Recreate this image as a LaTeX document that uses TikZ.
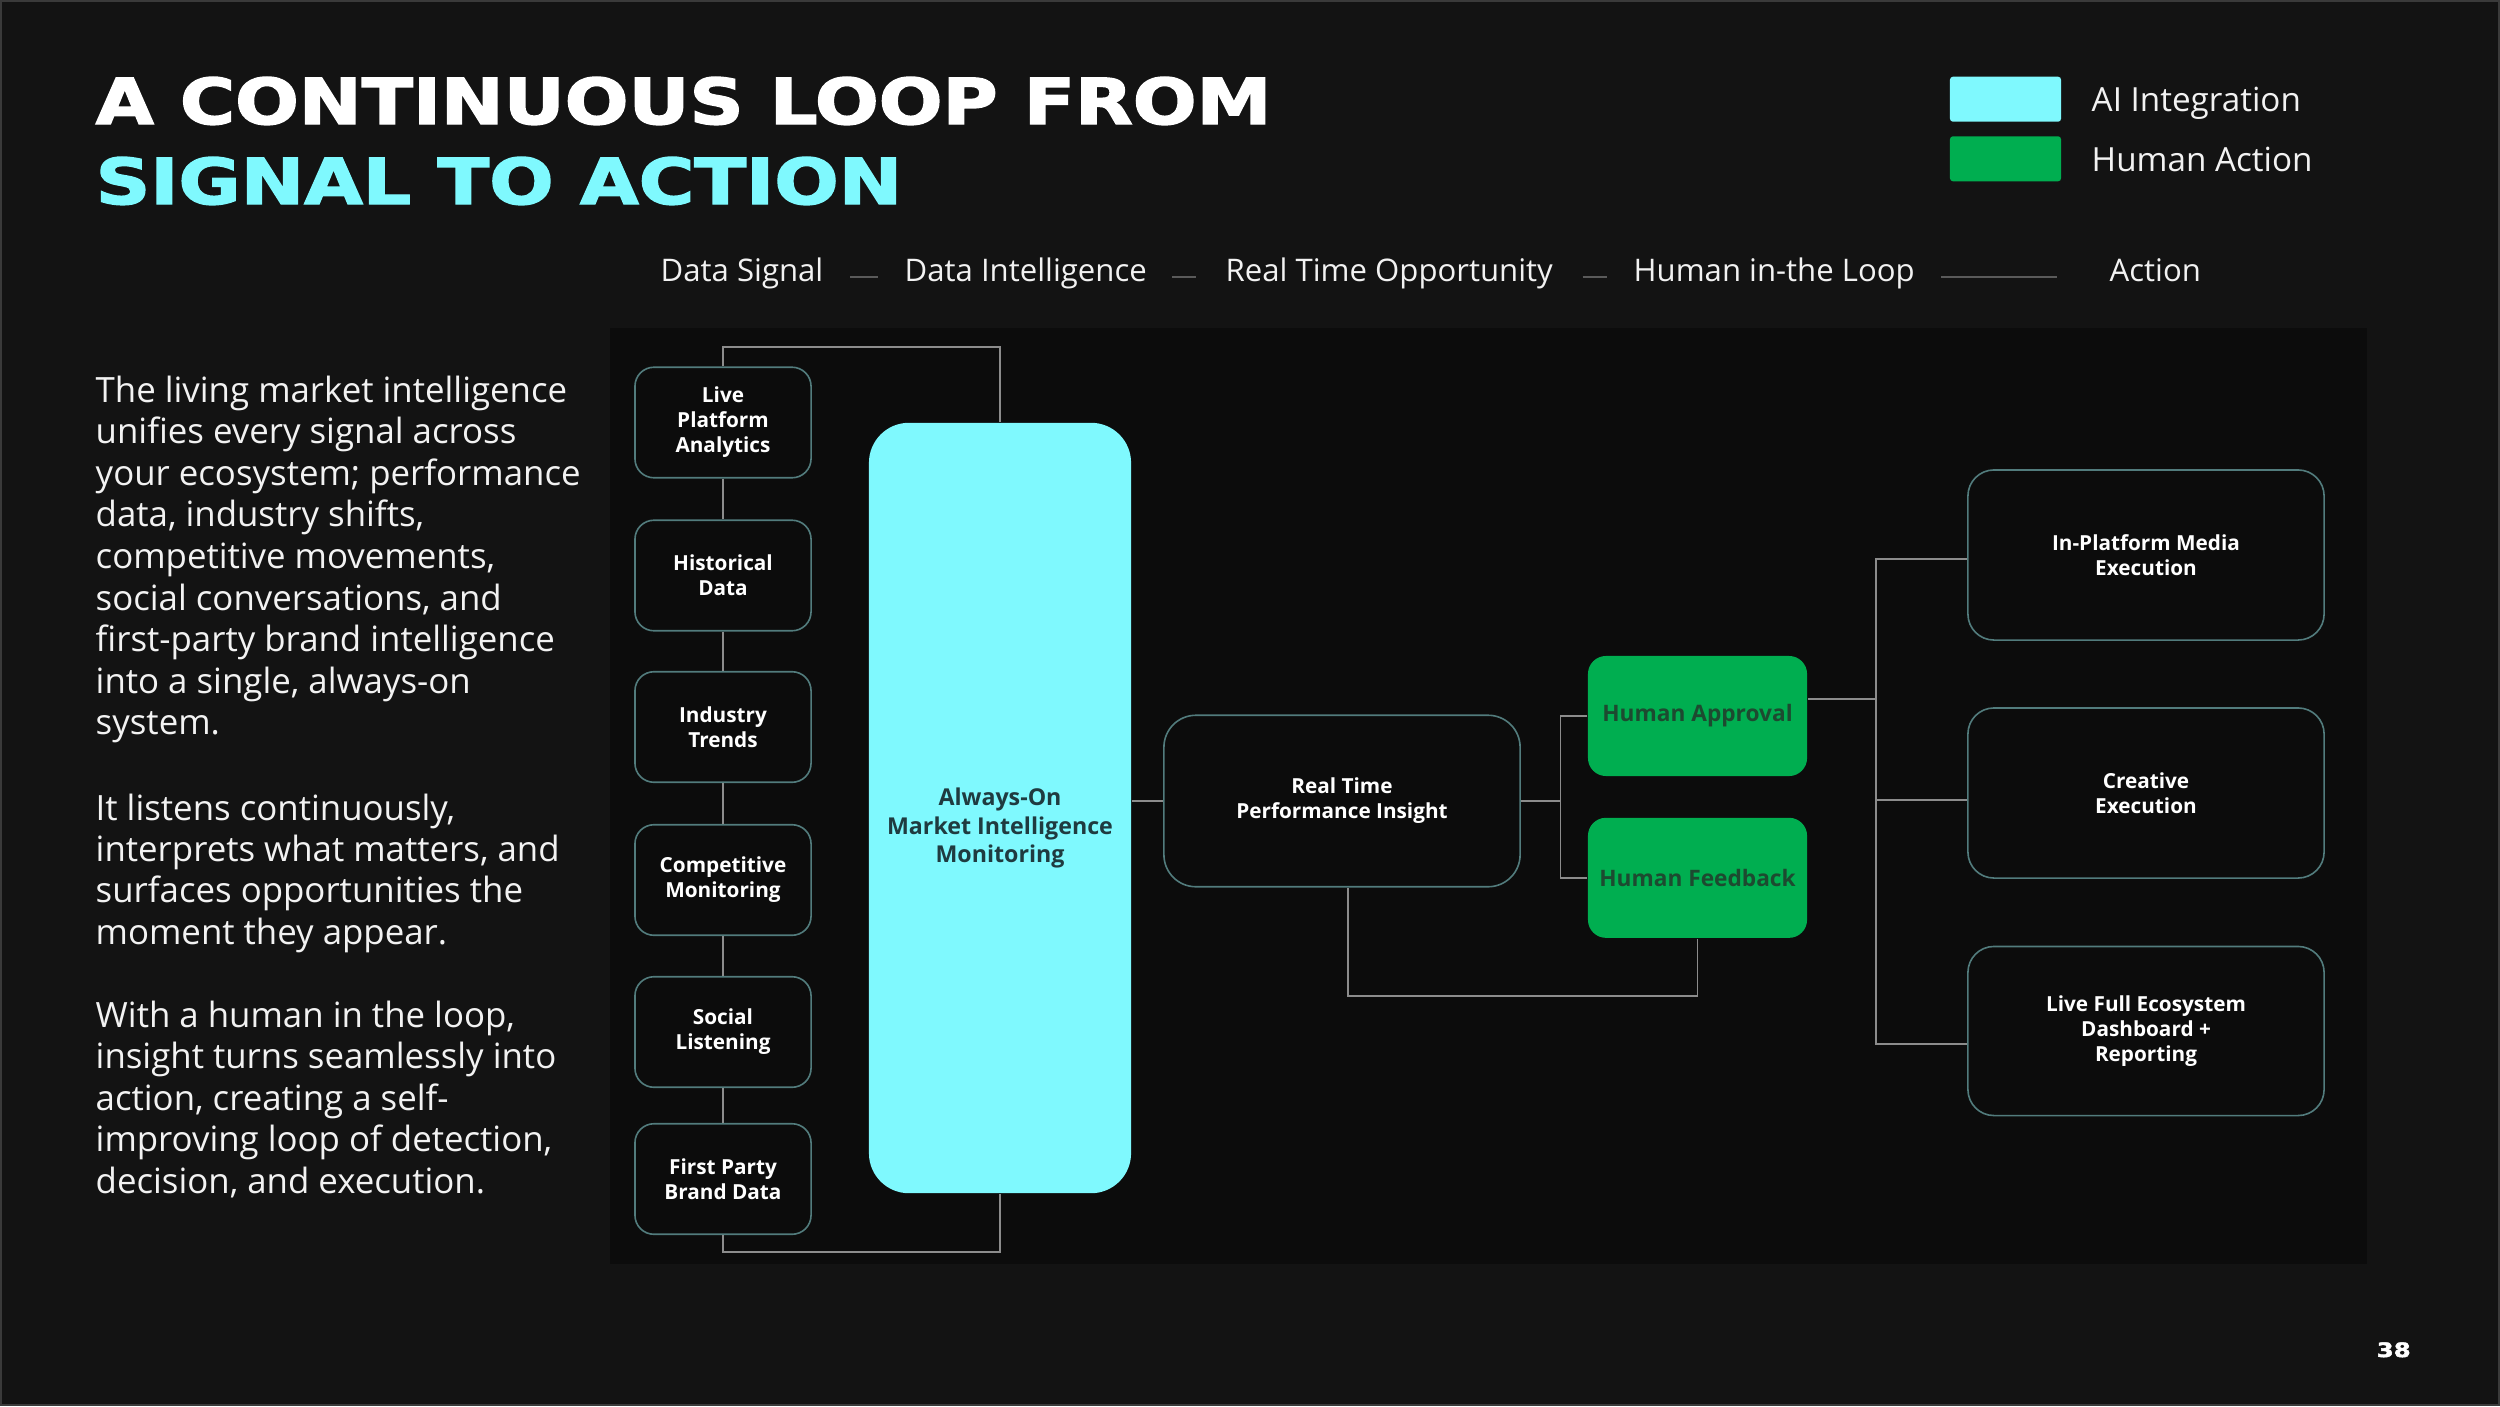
\documentclass[tikz,border=0pt]{standalone}
\usepackage{fontspec}
\usepackage{graphicx}
\setmainfont{Open Sans}
\newfontfamily\titlefont{DejaVu Sans}[BoldFeatures={FakeBold=2.2}]
\definecolor{bgc}{HTML}{131313}
\definecolor{panelc}{HTML}{0C0C0C}
\definecolor{framec}{HTML}{3A3A3A}
\definecolor{cyanc}{HTML}{7FF9FE}
\definecolor{greenc}{HTML}{00AE50}
\definecolor{bordc}{HTML}{527C7D}
\definecolor{connc}{HTML}{8C8C8C}
\definecolor{dashc}{HTML}{5A5A5A}
\definecolor{txtc}{HTML}{F2F2F2}
\definecolor{aitxt}{HTML}{1F3B40}
\definecolor{hutxt}{HTML}{1D4A30}
\newcommand\lblfont{\fontsize{5.9pt}{7.1pt}\selectfont\bfseries}
\begin{document}
\begin{tikzpicture}[x=0.01cm,y=-0.01cm,
  conn/.style={draw=connc,line width=0.018cm},
  hline/.style={draw=dashc,line width=0.02cm},
  src/.style={draw=bordc,line width=0.016cm,fill=panelc,rounded corners=0.19cm,
    minimum width=1.76cm,minimum height=1.105cm,inner sep=0pt,align=center,text=white,font=\lblfont},
  obox/.style={draw=bordc,line width=0.016cm,fill=panelc,inner sep=0pt,align=center,text=white,font=\lblfont},
  aibox/.style={fill=cyanc,rounded corners=0.4cm,minimum width=2.62cm,minimum height=7.70cm,inner sep=0pt},
  aitext/.style={align=center,text=aitxt,inner sep=0pt,font=\fontsize{6.6pt}{8.1pt}\selectfont\bfseries},
  hbox/.style={fill=greenc,rounded corners=0.18cm,minimum width=2.19cm,minimum height=1.2cm,inner sep=0pt,
    text=hutxt,font=\fontsize{6.45pt}{7.6pt}\selectfont\bfseries},
  hdr/.style={anchor=base west,inner sep=0pt,text=txtc,font=\fontsize{8.85pt}{10pt}\selectfont},
  legt/.style={anchor=base west,inner sep=0pt,text=txtc,font=\fontsize{9.45pt}{11pt}\selectfont},
  legbox/.style={minimum width=1.11cm,minimum height=0.45cm,rounded corners=0.03cm,inner sep=0pt},
  body/.style={anchor=base west,inner sep=0pt,text=txtc,font=\fontsize{9.9pt}{11.8pt}\selectfont}
]
\useasboundingbox (0,0) rectangle (2500,1406);
\fill[bgc] (0,0) rectangle (2500,1406);
\draw[framec,line width=0.02cm] (1,1) rectangle (2499,1405);
\fill[panelc] (610,328) rectangle (2367,1264);

% title
\node[anchor=base west,inner sep=0pt,text=white] (t1) at (95,124)
  {\resizebox{11.75cm}{0.47cm}{\titlefont\bfseries A CONTINUOUS LOOP FROM}};
\node[anchor=base west,inner sep=0pt,text=cyanc] (t2) at (95,204)
  {\resizebox{8.06cm}{0.47cm}{\titlefont\bfseries SIGNAL TO ACTION}};

% legend
\node[legbox,fill=cyanc] (lg1) at (2005.5,99.2) {};
\node[legbox,fill=greenc] (lg2) at (2005.5,158.8) {};
\node[legt] (lt1) at (2091,111.7) {AI Integration};
\node[legt] (lt2) at (2091,171.7) {Human Action};

% headers
\node[hdr] (h1) at (660,281.7) {Data Signal};
\node[hdr] (h2) at (904,281.7) {Data Intelligence};
\node[hdr] (h3) at (1225,281.7) {Real Time Opportunity};
\node[hdr] (h4) at (1633,281.7) {Human in-the Loop};
\node[hdr] (h5) at (2109,281.7) {Action};
\draw[hline,shorten <=0.26cm,shorten >=0.26cm] ([yshift=0.044cm]h1.base east) -- ([yshift=0.044cm]h2.base west);
\draw[hline,shorten <=0.245cm,shorten >=0.287cm] ([yshift=0.044cm]h2.base east) -- ([yshift=0.044cm]h3.base west);
\draw[hline,shorten <=0.29cm,shorten >=0.26cm] ([yshift=0.044cm]h3.base east) -- ([yshift=0.044cm]h4.base west);
\draw[hline,shorten <=0.26cm,shorten >=0.517cm] ([yshift=0.044cm]h4.base east) -- ([yshift=0.044cm]h5.base west);

% body text
\foreach \t [count=\i from 0] in {{The living market intelligence},{unifies every signal across},
  {your ecosystem; performance},{data, industry shifts,},{competitive movements,},
  {social conversations, and},{first-party brand intelligence},{into a single, always-on},{system.}}
  \node[body] (pa\i) at (95,{402+41.6*\i}) {\t};
\foreach \t [count=\i from 0] in {{It listens continuously,},{interprets what matters, and},
  {surfaces opportunities the},{moment they appear.}}
  \node[body] (pb\i) at (95,{820+41.4*\i}) {\t};
\foreach \t [count=\i from 0] in {{With a human in the loop,},{insight turns seamlessly into},
  {action, creating a self-},{improving loop of detection,},{decision, and execution.}}
  \node[body] (pc\i) at (95,{1027+41.5*\i}) {\t};

% source boxes
\node[src] (s1) at (723,422.5) {Live\\Platform\\Analytics};
\node[src] (s2) at (723,575.5) {Historical\\Data};
\node[src] (s3) at (723,727) {Industry\\Trends};
\node[src] (s4) at (723,880) {Competitive\\Monitoring};
\node[src] (s5) at (723,1032) {Social\\Listening};
\node[src] (s6) at (723,1179) {First Party\\Brand Data};

% AI box
\node[aibox] (cy) at (1000,808) {};
\node[aitext] (cyt) at (1000,828) {Always-On\\Market Intelligence\\Monitoring};

% insight
\node[obox,rounded corners=0.32cm,minimum width=3.56cm,minimum height=1.714cm] (rt) at (1342,801) {Real Time\\Performance Insight};

% human boxes
\node[hbox] (ha) at (1697.5,716) {Human Approval};
\node[hbox] (hf) at (1697.5,877.8) {Human Feedback};

% action boxes
\node[obox,rounded corners=0.26cm,minimum width=3.56cm,minimum height=1.70cm] (ip) at (2146,555) {In-Platform Media\\Execution};
\node[obox,rounded corners=0.26cm,minimum width=3.56cm,minimum height=1.70cm] (cr) at (2146,793) {Creative\\Execution};
\node[obox,rounded corners=0.26cm,minimum width=3.56cm,minimum height=1.69cm] (lf) at (2146,1031) {Live Full Ecosystem\\Dashboard +\\Reporting};

% page number
\node[anchor=base west,inner sep=0pt,text=white] (pg) at (2376,1357) {\resizebox{0.34cm}{0.147cm}{\titlefont\bfseries 38}};

% connectors
\coordinate (topy) at (0,347);
\coordinate (boty) at (0,1252);
\coordinate (fby) at (0,996);
\coordinate (jx) at (1560.5,0);
\coordinate (rx) at (1876,0);
\foreach \a/\b in {s1/s2,s2/s3,s3/s4,s4/s5,s5/s6} \draw[conn] (\a.south) -- (\b.north);
\draw[conn] (s1.north) |- (cy.north |- topy) -- (cy.north);
\draw[conn] (s6.south) |- (cy.south |- boty) -- (cy.south);
\draw[conn] (cy.east |- rt.west) -- (rt.west);
\draw[conn] (rt.east) -- (rt.east -| jx);
\draw[conn] (ha.west) -- (ha.west -| jx) -- (hf.west -| jx) -- (hf.west);
\draw[conn] (hf.south) |- ([xshift=0.06cm]rt.south |- fby) -- ([xshift=0.06cm]rt.south);
\draw[conn] ([yshift=0.173cm]ha.east) -- ([yshift=0.173cm]ha.east -| rx);
\draw[conn] ([yshift=-0.04cm]ip.west) -- ([yshift=-0.04cm]ip.west -| rx) -- ([yshift=-0.13cm]lf.west -| rx) -- ([yshift=-0.13cm]lf.west);
\draw[conn] ([yshift=-0.07cm]cr.west) -- ([yshift=-0.07cm]cr.west -| rx);
\end{tikzpicture}
\end{document}
